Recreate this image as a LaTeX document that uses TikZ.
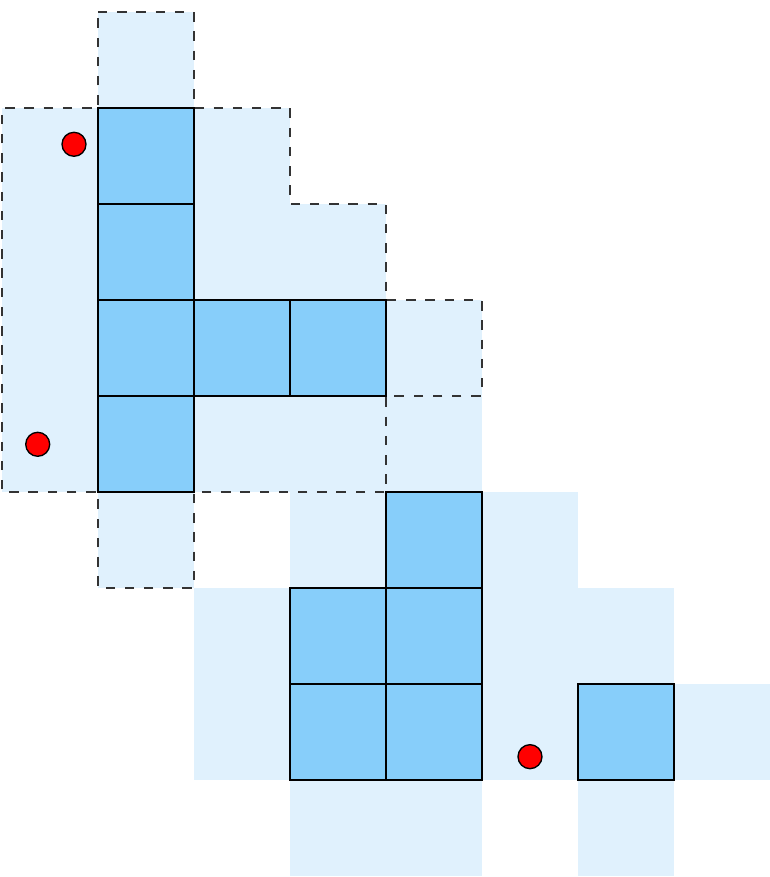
\documentclass[tikz,border=0pt]{standalone}
\definecolor{lightcell}{HTML}{E0F1FD}
\definecolor{darkcell}{HTML}{87CEFA}
\definecolor{dashgray}{HTML}{333333}
\tikzset{
  lightbox/.style={fill=lightcell, draw=none},
  darkbox/.style={fill=darkcell, draw=black, line width=0.4pt},
  regionline/.style={draw=dashgray, line width=0.45pt, dash pattern=on 2.8pt off 2.9pt},
  reddot/.style={circle, fill=red, draw=black, line width=0.4pt, minimum size=0.25cm, inner sep=0pt}
}
\begin{document}
\begin{tikzpicture}
\useasboundingbox (-0.0208,-0.0104) rectangle (8,9.125);
% light cells
\foreach \c/\r in {1/8, 0/7,2/7, 0/6,2/6,3/6, 0/5,4/5, 0/4,2/4,3/4,4/4, 1/3,3/3,5/3, 2/2,5/2,6/2, 2/1,5/1,7/1, 3/0,4/0,6/0}
  \path[lightbox] (\c,\r) rectangle ++(1,1);
% dashed region outline
\draw[regionline] (1,9) -- (2,9) -- (2,8) -- (3,8) -- (3,7) -- (4,7) -- (4,6) -- (5,6) -- (5,5) -- (4,5) -- (4,4) -- (2,4) -- (2,3) -- (1,3) -- (1,4) -- (0,4) -- (0,8) -- (1,8) -- cycle;
% dark cells
\foreach \c/\r in {1/7,1/6,1/5,2/5,3/5,1/4, 4/3, 3/2,4/2, 3/1,4/1,6/1}
  \draw[darkbox] (\c,\r) rectangle ++(1,1);
% red dots
\node[reddot] (d1) at (0.75,7.622) {};
\node[reddot] (d2) at (0.372,4.497) {};
\node[reddot] (d3) at (5.5,1.243) {};
\end{tikzpicture}
\end{document}
